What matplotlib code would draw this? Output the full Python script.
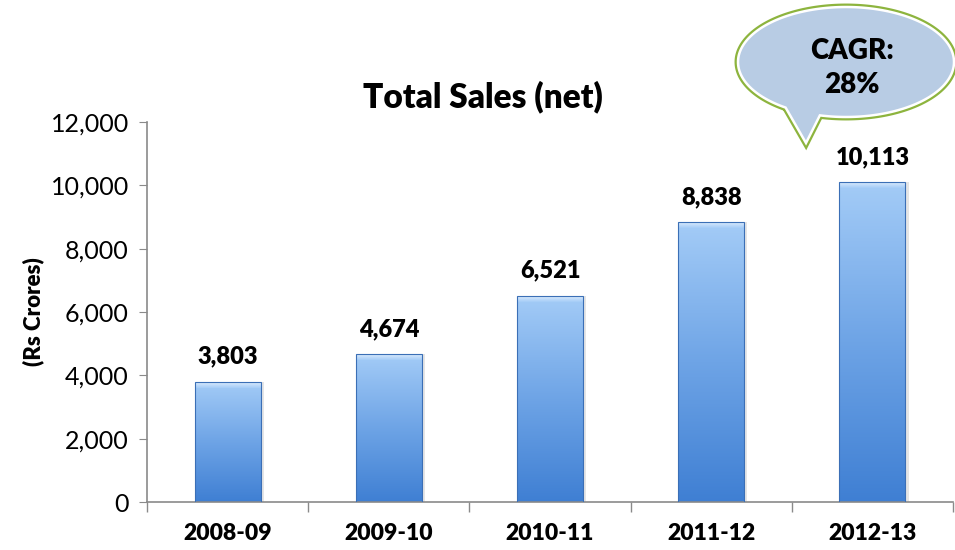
import numpy as np
import matplotlib
matplotlib.use("Agg")
import matplotlib.pyplot as plt
from matplotlib.path import Path
from matplotlib.patches import PathPatch
from matplotlib.ticker import FuncFormatter
from matplotlib.colors import LinearSegmentedColormap

plt.rcParams['font.family'] = ['Lato', 'DejaVu Sans']

years = ["2008-09", "2009-10", "2010-11", "2011-12", "2012-13"]
sales = [3803, 4674, 6521, 8838, 10113]
cagr = "28%"

W, H = 955, 550
BOLD = "heavy"
fig = plt.figure(figsize=(W / 100, H / 100), dpi=100)
ax = fig.add_axes([147 / W, 48 / H, 806 / W, 380 / H])

x = np.arange(len(years))
bar_w = 0.41

# soft drop shadow behind each bar
ax.bar(x + 0.02, sales, width=bar_w, color="#000000", alpha=0.10, zorder=1)
bars = ax.bar(x, sales, width=bar_w, color="none", edgecolor="#3b6fb6",
              linewidth=0.8, zorder=3)

# vertical gradient fill clipped to each bar
grad_cmap = LinearSegmentedColormap.from_list(
    "barfill", ["#3f7fd3", "#6ea4e6", "#a4ccf7"])
grad = np.linspace(0, 1, 256).reshape(-1, 1)
bevel_cmap = LinearSegmentedColormap.from_list("bevel", ["#a4ccf7", "#e4f0fd"])
for b in bars:
    x0, w, h = b.get_x(), b.get_width(), b.get_height()
    im = ax.imshow(grad, cmap=grad_cmap, aspect="auto", origin="lower",
                   extent=[x0, x0 + w, 0, h], zorder=2)
    im.set_clip_path(b)
    # light bevel along the top edge
    bv = ax.imshow(grad, cmap=bevel_cmap, aspect="auto", origin="lower",
                   extent=[x0, x0 + w, h - 200, h], zorder=2.5)
    bv.set_clip_path(b)

for xi, v in zip(x, sales):
    ax.annotate(f"{v:,}", (xi, v), xytext=(0, 10), textcoords="offset points",
                ha="center", va="bottom", fontsize=17, fontweight=BOLD)

ax.set_xlim(-0.5, len(years) - 0.5)
ax.set_ylim(0, 12000)
ax.set_yticks(np.arange(0, 12001, 2000))
ax.yaxis.set_major_formatter(FuncFormatter(lambda v, p: f"{int(v):,}"))
ax.set_xticks(x)
ax.set_xticklabels(years, fontsize=16.5, fontweight=BOLD)
ax.set_xticks(np.arange(-0.5, len(years)), minor=True)
ax.tick_params(axis="x", which="major", length=0, pad=15)
ax.tick_params(axis="x", which="minor", length=7, color="#8a8a8a", width=1)
ax.tick_params(axis="y", length=6, color="#8a8a8a", labelsize=18, pad=7)
for s in ["top", "right"]:
    ax.spines[s].set_visible(False)
for s in ["left", "bottom"]:
    ax.spines[s].set_color("#8a8a8a")
    ax.spines[s].set_linewidth(1.2)
ax.set_ylabel("(Rs Crores)", fontsize=16, fontweight=BOLD, labelpad=5)

fig.text(483 / W, 1 - 97 / H, "Total Sales (net)", ha="center", va="center",
         fontsize=24, fontweight=BOLD)

# speech bubble with the growth figure
cx, cy, a, bb = 846, H - 62, 108, 55
t1, t2 = np.deg2rad(236), np.deg2rad(256)
angs = np.linspace(t2, t1 + 2 * np.pi, 200)
pts = [(cx + a * np.cos(t), cy + bb * np.sin(t)) for t in angs]
pts.append((806, H - 143))
pts.append(pts[0])
pts = np.array(pts) / [W, H]
codes = [Path.MOVETO] + [Path.LINETO] * (len(pts) - 2) + [Path.CLOSEPOLY]
bubble = Path(pts, codes)
fig.patches.append(PathPatch(bubble, transform=fig.transFigure,
                             facecolor="none", edgecolor="#8db43e", lw=5,
                             zorder=5))
fig.patches.append(PathPatch(bubble, transform=fig.transFigure,
                             facecolor="#b8cce4", edgecolor="white", lw=1.8,
                             zorder=6))
fig.text(852 / W, 1 - 68 / H, "CAGR:\n" + cagr, ha="center", va="center",
         fontsize=20, fontweight=BOLD, linespacing=1.35, zorder=7)

fig.savefig("out.png", dpi=100, facecolor="white")
